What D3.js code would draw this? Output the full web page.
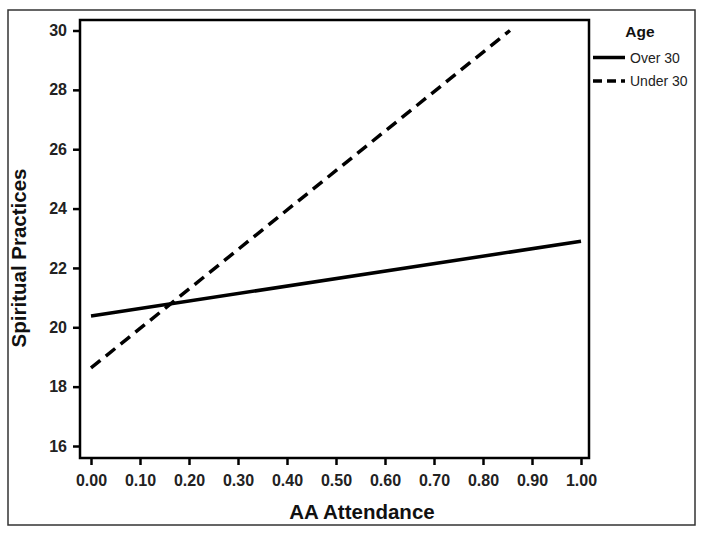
<!DOCTYPE html>
<html>
<head>
<meta charset="utf-8">
<script src="https://cdn.jsdelivr.net/npm/d3@7"></script>
<style>
body{margin:0;background:#fff;}
svg{display:block;font-family:"Liberation Sans",Arial,sans-serif;}
</style>
</head>
<body>
<svg id="chart" width="704" height="535"></svg>
<script>
// Data
const xTicks = [0, 0.1, 0.2, 0.3, 0.4, 0.5, 0.6, 0.7, 0.8, 0.9, 1.0];
const yTicks = [16, 18, 20, 22, 24, 26, 28, 30];
const seriesNames = ["Over 30", "Under 30"];
const over30X = [0, 1.0];
const over30Y = [20.38, 22.9];
const under30X = [0, 0.855];
const under30Y = [18.63, 30.0];

const svg = d3.select("#chart");
const frame = {left: 80, right: 589, top: 20, bottom: 458};

const x = d3.scaleLinear().domain([0, 1]).range([91, 581]);
const y = d3.scaleLinear().domain([16, 30]).range([446, 30.5]);

// outer border
svg.append("rect").attr("x", 8).attr("y", 10).attr("width", 687).attr("height", 515)
  .attr("fill", "none").attr("stroke", "#333").attr("stroke-width", 1.5);

// plot frame
svg.append("rect").attr("x", frame.left).attr("y", frame.top)
  .attr("width", frame.right - frame.left).attr("height", frame.bottom - frame.top)
  .attr("fill", "none").attr("stroke", "#000").attr("stroke-width", 2.5);

const tickFont = 16;
// axes
const xAxis = d3.axisBottom(x).tickValues(xTicks).tickFormat(d3.format(".2f")).tickSize(7).tickSizeOuter(0).tickPadding(10);
const gx = svg.append("g").attr("transform", `translate(0,${frame.bottom})`).call(xAxis);
gx.select(".domain").remove();
gx.selectAll(".tick line").attr("stroke", "#000").attr("stroke-width", 2.5);
gx.selectAll(".tick text").attr("font-size", tickFont).attr("font-weight", "bold").attr("fill", "#222")
  .attr("font-family", "Liberation Sans, Arial, sans-serif");

const yAxis = d3.axisLeft(y).tickValues(yTicks).tickSize(7).tickSizeOuter(0).tickPadding(6);
const gy = svg.append("g").attr("transform", `translate(${frame.left},0)`).call(yAxis);
gy.select(".domain").remove();
gy.selectAll(".tick line").attr("stroke", "#000").attr("stroke-width", 2.5);
gy.selectAll(".tick text").attr("font-size", tickFont).attr("font-weight", "bold").attr("fill", "#222")
  .attr("font-family", "Liberation Sans, Arial, sans-serif");

// lines
const line = d3.line().x(d => x(d[0])).y(d => y(d[1]));
const over30 = over30X.map((v, i) => [v, over30Y[i]]);
const under30 = under30X.map((v, i) => [v, under30Y[i]]);

svg.append("path").datum(over30).attr("d", line)
  .attr("fill", "none").attr("stroke", "#000").attr("stroke-width", 3.5);
svg.append("path").datum(under30).attr("d", line)
  .attr("fill", "none").attr("stroke", "#000").attr("stroke-width", 3.5)
  .attr("stroke-dasharray", "12,7");

// axis titles
svg.append("text").attr("x", 362).attr("y", 519).attr("text-anchor", "middle")
  .attr("font-size", 20.5).attr("font-weight", "bold").attr("fill", "#111").text("AA Attendance");
svg.append("text").attr("transform", "translate(26,258) rotate(-90)").attr("text-anchor", "middle")
  .attr("font-size", 20.5).attr("font-weight", "bold").attr("fill", "#111").text("Spiritual Practices");

// legend
svg.append("text").attr("x", 640).attr("y", 37).attr("text-anchor", "middle")
  .attr("font-size", 15.5).attr("font-weight", "bold").attr("fill", "#111").text("Age");
const leg = svg.append("g");
seriesNames.forEach((name, i) => {
  const ly = 57.5 + i * 23.5;
  leg.append("line").attr("x1", 593).attr("x2", 625).attr("y1", ly).attr("y2", ly)
    .attr("stroke", "#000").attr("stroke-width", 3.5)
    .attr("stroke-dasharray", i === 1 ? "9,5" : null);
  leg.append("text").attr("x", 630).attr("y", ly + 5).attr("font-size", 14)
    .attr("fill", "#222").text(name);
});
</script>
</body>
</html>
